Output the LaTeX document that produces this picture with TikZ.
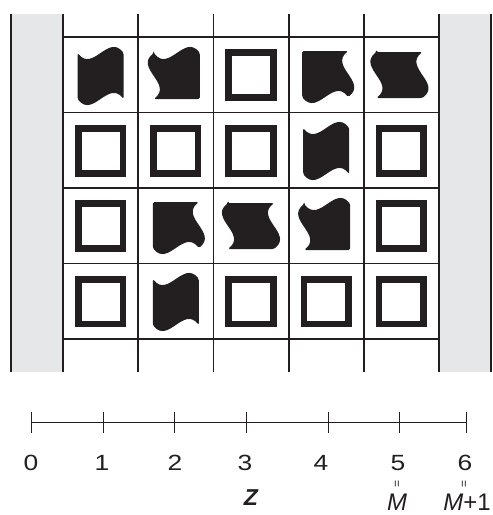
\documentclass[tikz,border=0pt]{standalone}
\usepackage{fontspec}
\setmainfont{Liberation Sans}
\definecolor{ink}{HTML}{231F20}
\definecolor{strip}{HTML}{E6E7E8}
\newcommand{\widedigit}[1]{\scalebox{1.2}[1]{#1}}
\tikzset{
  gridline/.style={draw=ink, line width=1.8pt},
  axisline/.style={draw=ink, line width=0.9pt},
  numlabel/.style={anchor=base, inner sep=0pt, text depth=0pt, font=\fontsize{22}{22}\selectfont, text=ink},
  bottomlabel/.style={anchor=base, inner sep=0pt, text depth=0pt, font=\fontsize{24}{24}\selectfont, text=ink},
  eqlabel/.style={rotate=90, inner sep=0pt, font=\fontsize{12}{12}\selectfont, text=ink},
  blobfill/.style={fill=ink, rounded corners=1.5pt},
  hollow/.pic={\draw[ink, line width=6.6pt] (-22.3,-22.3) rectangle (22.3,22.3);},
  blobA/.pic={\path[blobfill] (-23,-23) .. controls (-7.7,-4) and (7.7,-42) .. (23,-23)
      -- (23,23) .. controls (7.7,4) and (-7.7,42) .. (-23,23) -- cycle;},
  blobB/.pic={\path[blobfill] (-23,-23) .. controls (-7.7,-4) and (7.7,-42) .. (23,-23)
      -- (23,23) -- (-23,23) .. controls (-4,7.7) and (-42,-7.7) .. (-23,-23) -- cycle;},
  blobC/.pic={\path[blobfill] (-23,-23) -- (23,-23) .. controls (4,-7.7) and (42,7.7) .. (23,23)
      .. controls (7.7,4) and (-7.7,42) .. (-23,23) -- cycle;},
  blobD/.pic={\path[blobfill] (-23,-23) -- (23,-23) .. controls (4,-7.7) and (42,7.7) .. (23,23)
      -- (-23,23) .. controls (-4,7.7) and (-42,-7.7) .. (-23,-23) -- cycle;},
}
\begin{document}
\begin{tikzpicture}[x=1pt,y=-1pt]
\useasboundingbox (0,0) rectangle (493,515);
% side strips
\fill[strip] (11,14) rectangle (63,372);
\fill[strip] (439,14) rectangle (491,372);
% grid
\foreach \x in {11,63,138.2,213.4,288.6,363.8,439,491}
  \draw[gridline] (\x,14) -- (\x,372);
\foreach \y in {37,112.5,188,263.5,339}
  \draw[gridline] (63,\y) -- (439,\y);
% row 1
\pic at (100.6,76) {blobA};
\pic at (176.8,76) {blobB};
\pic at (251,75) {hollow};
\pic at (325.2,74) {blobC};
\pic at (399.4,75) {blobD};
% row 2
\pic at (100.6,151) {hollow};
\pic at (175.8,151) {hollow};
\pic at (251,151) {hollow};
\pic at (326.2,151) {blobA};
\pic at (401.4,151) {hollow};
% row 3
\pic at (100.6,226) {hollow};
\pic at (175.8,225) {blobC};
\pic at (251,226) {blobD};
\pic at (327.2,227) {blobB};
\pic at (401.4,226) {hollow};
% row 4
\pic at (100.6,301.5) {hollow};
\pic at (175.8,302) {blobA};
\pic at (251,301.5) {hollow};
\pic at (326.2,301.5) {hollow};
\pic at (401.4,301.5) {hollow};
% axis
\coordinate (t0) at (31,422);
\coordinate (t1) at (103,422);
\coordinate (t2) at (174,422);
\coordinate (t3) at (246,422);
\coordinate (t4) at (328,422);
\coordinate (t5) at (399,422);
\coordinate (t6) at (466,422);
\draw[axisline] (t0) -- (t6);
\foreach \t in {t0,t1,t2,t3,t4,t5,t6}
  \draw[axisline] ([yshift=10pt]\t) -- ([yshift=-11pt]\t);
\node[numlabel] (n0) at (31,470) {\widedigit{0}};
\node[numlabel] (n1) at (102,470) {\widedigit{1}};
\node[numlabel] (n2) at (175,470) {\widedigit{2}};
\node[numlabel] (n3) at (245,470) {\widedigit{3}};
\node[numlabel] (n4) at (321,470) {\widedigit{4}};
\node[numlabel] (n5) at (398,470) {\widedigit{5}};
\node[numlabel] (n6) at (465,470) {\widedigit{6}};
\node[eqlabel] (e5) at (398,484) {=};
\node[eqlabel] (e6) at (465,484) {=};
\node[bottomlabel, font=\fontsize{23}{23}\selectfont] (zl) at (251,505) {\bfseries\itshape Z};
\node[bottomlabel] (ml) at (397,510) {\itshape M};
\node[bottomlabel] (m1) at (467,510) {\itshape M\upshape+1};
\end{tikzpicture}
\end{document}
